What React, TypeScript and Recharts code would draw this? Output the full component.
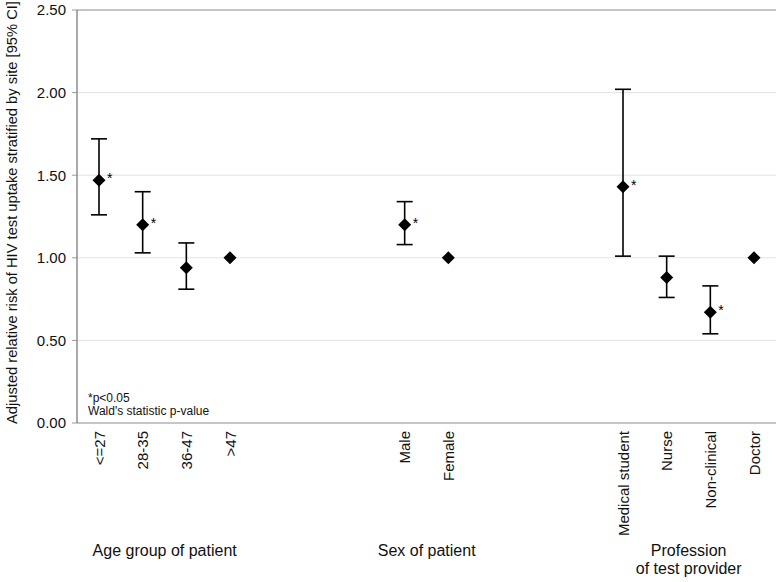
import React from 'react';
import {
  ComposedChart, Scatter, ErrorBar, XAxis, YAxis, CartesianGrid, ReferenceLine, Label
} from 'recharts';

// categories incl. empty slots that separate the three groups
const categories = ['<=27', '28-35', '36-47', '>47', 'gap1', 'gap2', 'gap3', 'Male', 'Female', 'gap4', 'gap5', 'gap6', 'Medical student', 'Nurse', 'Non-clinical', 'Doctor'];
const riskRatio = [1.47, 1.2, 0.94, 1.0, null, null, null, 1.2, 1.0, null, null, null, 1.43, 0.88, 0.67, 1.0];
const ciLow = [1.26, 1.03, 0.81, null, null, null, null, 1.08, null, null, null, null, 1.01, 0.76, 0.54, null];
const ciHigh = [1.72, 1.4, 1.09, null, null, null, null, 1.34, null, null, null, null, 2.02, 1.01, 0.83, null];
const significant = [true, true, false, false, false, false, false, true, false, false, false, false, true, false, true, false];
const yTicks = [0, 0.5, 1, 1.5, 2, 2.5];

const FONT = '"Liberation Sans", Arial, sans-serif';

const data = categories.map((name, i) => {
  const rr = riskRatio[i];
  const lo = ciLow[i];
  const hi = ciHigh[i];
  return {
    name,
    rr,
    err: rr != null && lo != null && hi != null ? [rr - lo, hi - rr] : undefined,
    sig: significant[i],
  };
});

const Diamond = (props: any) => {
  const { cx, cy, payload } = props;
  if (payload == null || payload.rr == null) return <g />;
  const s = 6.5;
  return (
    <g>
      <polygon points={`${cx},${cy - s} ${cx + s},${cy} ${cx},${cy + s} ${cx - s},${cy}`} fill="#000" />
      {payload.sig && (
        <text x={cx + 8} y={cy + 3} fontSize={14} fontFamily={FONT} fill="#000">*</text>
      )}
    </g>
  );
};

const CatTick = (props: any) => {
  const { x, y, payload } = props;
  const name: string = payload.value;
  const label = name.startsWith('gap') ? '' : name;
  const half = 22;
  return (
    <g>
      {label && (
        <text x={x} y={y} transform={`rotate(-90, ${x}, ${y})`} textAnchor="end" dominantBaseline="central"
          fontSize={15} fontFamily={FONT} fill="#111">{label}</text>
      )}
      {name === '28-35' && (
        <text x={x + half} y={y + 125} textAnchor="middle" fontSize={16} fontFamily={FONT} fill="#111">Age group of patient</text>
      )}
      {name === 'Male' && (
        <text x={x + half} y={y + 125} textAnchor="middle" fontSize={16} fontFamily={FONT} fill="#111">Sex of patient</text>
      )}
      {name === 'Nurse' && (
        <text x={x + half} y={y + 125} textAnchor="middle" fontSize={16} fontFamily={FONT} fill="#111">
          <tspan x={x + half}>Profession</tspan>
          <tspan x={x + half} dy={18}>of test provider</tspan>
        </text>
      )}
    </g>
  );
};

const YLabel = (props: any) => {
  const { viewBox } = props;
  const x = 12;
  const y = viewBox.y + viewBox.height / 2 - 4;
  return (
    <text x={x} y={y} transform={`rotate(-90, ${x}, ${y})`} textAnchor="middle" dominantBaseline="central"
      fontSize={14.7} fontFamily={FONT} fill="#111">
      Adjusted relative risk of HIV test uptake stratified by site [95% CI]
    </text>
  );
};

const Note = (props: any) => {
  const { viewBox } = props;
  const x = viewBox.x + 11;
  const y = viewBox.y;
  return (
    <text fontSize={12} fontFamily={FONT} fill="#111">
      <tspan x={x} y={y - 21}>*p&lt;0.05</tspan>
      <tspan x={x} y={y - 8}>Wald's statistic p-value</tspan>
    </text>
  );
};

export default function App() {
  return (
    <div style={{ position: 'absolute', left: 0, top: 0, background: '#fff' }}>
      <ComposedChart width={782} height={582} data={data} margin={{ top: 10, right: 6, left: 0, bottom: 0 }}>
        <CartesianGrid vertical={false} stroke="#e3e3e3" yAxisId="l" />
        <XAxis dataKey="name" type="category" interval={0} height={159} tick={<CatTick />}
          padding={{ left: 22, right: 22 }}
          tickLine={false} axisLine={{ stroke: '#9a9a9a' }} tickSize={6} tickMargin={2} />
        <YAxis yAxisId="l" domain={[0, 2.5]} ticks={yTicks} width={77} tickFormatter={(v: number) => v.toFixed(2)}
          tick={{ fill: '#111', fontSize: 15, fontFamily: FONT }} tickSize={5} tickMargin={6}
          tickLine={{ stroke: '#9a9a9a' }} axisLine={{ stroke: '#555' }}>
          <Label content={<YLabel />} />
        </YAxis>
        <YAxis yAxisId="r" orientation="right" width={0} tick={false} tickLine={false} axisLine={{ stroke: '#9a9a9a' }} />
        <ReferenceLine yAxisId="l" y={2.5} stroke="#9a9a9a" />
        <ReferenceLine yAxisId="l" y={0} stroke="none" label={<Note />} />
        <Scatter yAxisId="l" dataKey="rr" shape={<Diamond />} isAnimationActive={false}>
          <ErrorBar dataKey="err" direction="y" width={8} stroke="#000" strokeWidth={1.6} />
        </Scatter>
      </ComposedChart>
    </div>
  );
}
